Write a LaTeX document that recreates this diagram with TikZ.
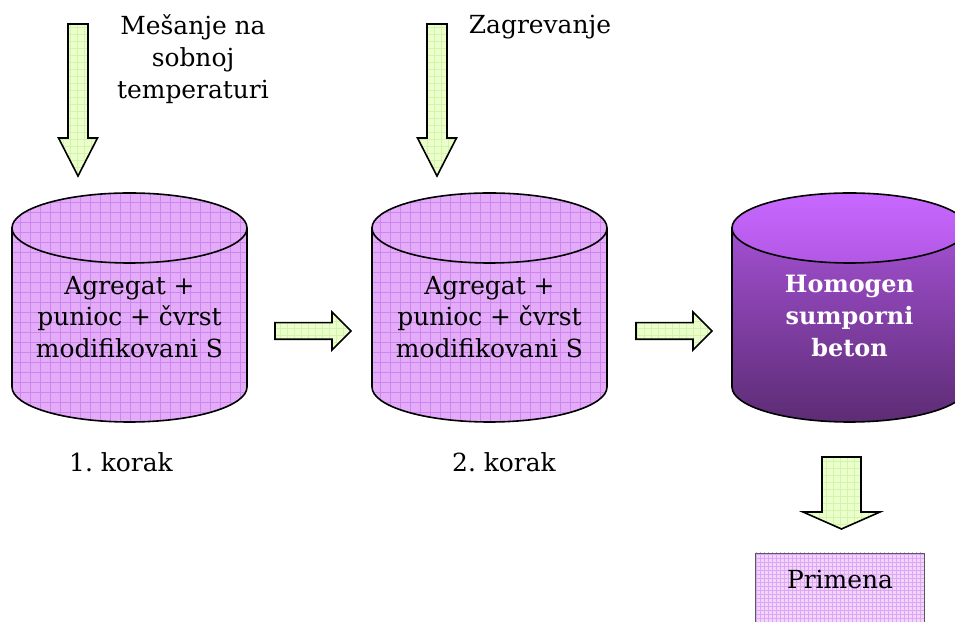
\documentclass[tikz,border=0pt]{standalone}
\usepackage{fontspec}
\setmainfont{DejaVu Serif}
\frenchspacing
\definecolor{cylfill}{RGB}{228,172,248}
\definecolor{cylgrid}{RGB}{204,134,240}
\definecolor{arrfill}{RGB}{234,255,204}
\definecolor{arrgrid}{RGB}{212,244,172}
\definecolor{boxfill}{RGB}{242,214,250}
\definecolor{boxgrid}{RGB}{222,166,246}
\definecolor{darktop}{RGB}{200,104,255}
\definecolor{darkmid}{RGB}{176,86,226}
\definecolor{darkbot}{RGB}{92,44,116}
% cylinder outline centred at x=#1
\newcommand\cylpath[1]{(#1-117.5,394) -- (#1-117.5,235)
  arc[start angle=180,end angle=360,x radius=117.5,y radius=35]
  -- (#1+117.5,394)
  arc[start angle=0,end angle=180,x radius=117.5,y radius=35] -- cycle}
% right block arrow from #1 to #2 at height #3
\newcommand\rarrowpath[3]{(#1,#3+8.3) -- (#2-19,#3+8.3) -- (#2-19,#3+19)
  -- (#2,#3) -- (#2-19,#3-19) -- (#2-19,#3-8.3) -- (#1,#3-8.3) -- cycle}
% down block arrow: centre x, top, head start, tip, shaft half, head half
\newcommand\darrowpath[6]{(#1-#5,#2) -- (#1+#5,#2) -- (#1+#5,#3) -- (#1+#6,#3)
  -- (#1,#4) -- (#1-#6,#3) -- (#1-#5,#3) -- cycle}
% filled region with a square grid
\newcommand\gridfill[4]{%
  \begin{scope}
    \clip #1;
    \fill[#2] #1;
    \draw[#3,line width=0.6bp,step=#4] (0,0) grid (960,622);
  \end{scope}}
\tikzset{
  outline/.style={draw=black,line width=1.6bp,line join=miter},
  lbl/.style={font=\fontsize{25}{32}\selectfont,align=center,inner sep=0pt},
}
\begin{document}
\begin{tikzpicture}[x=1bp,y=1bp]
\useasboundingbox (0,0) rectangle (955,622);

% input arrows
\gridfill{\darrowpath{78}{598}{484}{446}{10}{19.5}}{arrfill}{arrgrid}{7}
\draw[outline] \darrowpath{78}{598}{484}{446}{10}{19.5};
\gridfill{\darrowpath{437}{598}{484}{446}{10}{19.5}}{arrfill}{arrgrid}{7}
\draw[outline] \darrowpath{437}{598}{484}{446}{10}{19.5};

\node[lbl] (mix) at (193,563) {Mešanje na\\sobnoj\\temperaturi};
\node[lbl] (heat) at (540,595) {Zagrevanje};

% step cylinders
\gridfill{\cylpath{129.5}}{cylfill}{cylgrid}{10}
\draw[outline] \cylpath{129.5};
\draw[outline] (12,394) arc[start angle=180,end angle=360,x radius=117.5,y radius=35];
\node[lbl] (c1) at (129.5,305) {Agregat +\\punioc + čvrst\\modifikovani S};

\gridfill{\cylpath{489.5}}{cylfill}{cylgrid}{10}
\draw[outline] \cylpath{489.5};
\draw[outline] (372,394) arc[start angle=180,end angle=360,x radius=117.5,y radius=35];
\node[lbl] (c2) at (489.5,305) {Agregat +\\punioc + čvrst\\modifikovani S};

% final product cylinder
\shade[top color=darkmid,bottom color=darkbot] \cylpath{849.5};
\shade[top color=darktop,bottom color=darkmid!90!darktop] (849.5,394) ellipse[x radius=117.5,y radius=35];
\draw[outline] \cylpath{849.5};
\draw[outline] (732,394) arc[start angle=180,end angle=360,x radius=117.5,y radius=35];
\node[lbl,text=white,font=\fontsize{24}{32}\selectfont\bfseries] (c3) at (849.5,306) {Homogen\\sumporni\\beton};

% transfer arrows
\gridfill{\rarrowpath{275}{351}{291}}{arrfill}{arrgrid}{7}
\draw[outline] \rarrowpath{275}{351}{291};
\gridfill{\rarrowpath{636}{712}{291}}{arrfill}{arrgrid}{7}
\draw[outline] \rarrowpath{636}{712}{291};

\node[lbl] (k1) at (121,160) {1. korak};
\node[lbl] (k2) at (504,160) {2. korak};

% output arrow and application box
\gridfill{\darrowpath{841.5}{165}{110}{93}{19.5}{38.5}}{arrfill}{arrgrid}{7}
\draw[outline] \darrowpath{841.5}{165}{110}{93}{19.5}{38.5};

\gridfill{(755,-10) rectangle (924,69)}{boxfill}{boxgrid}{4}
\draw[draw=gray!70!black,line width=0.8bp] (755,-10) rectangle (924,69);
\node[lbl] (use) at (840,42) {Primena};
\end{tikzpicture}
\end{document}
